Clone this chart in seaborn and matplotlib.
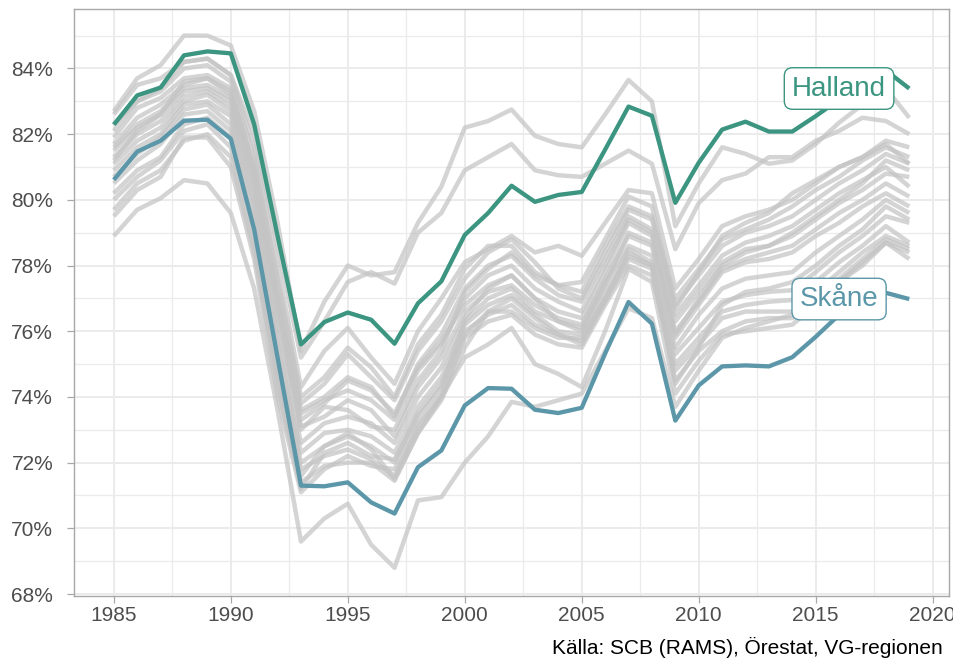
import matplotlib
matplotlib.use("Agg")
import matplotlib.pyplot as plt
import numpy as np
import pandas as pd
import seaborn as sns

# ---------------- data ----------------
years = list(range(1985, 2020))

halland = [82.29, 83.18, 83.42, 84.40, 84.52, 84.46, 82.30, 78.90, 75.60, 76.28,
           76.57, 76.35, 75.62, 76.85, 77.52, 78.93, 79.60, 80.43, 79.94, 80.15,
           80.24, 81.53, 82.84, 82.56, 79.91, 81.13, 82.14, 82.38, 82.08, 82.08,
           82.55, 83.05, 83.50, 83.94, 83.39]
skane = [80.61, 81.47, 81.80, 82.41, 82.44, 81.86, 79.10, 75.20, 71.30, 71.28,
         71.40, 70.79, 70.45, 71.86, 72.37, 73.74, 74.27, 74.25, 73.61, 73.51,
         73.67, 75.32, 76.89, 76.23, 73.28, 74.35, 74.93, 74.96, 74.93, 75.21,
         75.83, 76.50, 76.95, 77.17, 76.98]

g01 = [82.7, 83.7, 84.1, 85.0, 85.0, 84.7, 82.7, 79.3, 75.4, 76.9, 78.0, 77.7, 77.8, 79.3, 80.4,
       82.2, 82.4, 82.75, 81.95, 81.7, 81.6, 82.6, 83.65, 83.0, 79.2, 80.5, 81.6, 81.4, 81.1, 81.2,
       81.7, 82.35, 82.9, 83.4, 82.5]
g02 = [78.9, 79.7, 80.05, 80.6, 80.5, 79.6, 77.3, 73.6, 69.6, 70.3, 70.75, 69.5, 68.8, 70.85, 70.95,
       72.0, 72.8, 73.85, 73.7, 73.9, 74.1, 75.4, 76.7, 76.4, 73.7, 74.8, 75.8, 76.1, 76.3, 76.5,
       77.0, 77.5, 78.0, 78.7, 78.2]
g03 = [82.3, 83.0, 83.4, 84.2, 84.3, 83.8, 82.0, 78.6, 75.2, 76.3, 77.5, 77.8, 77.45, 79.0, 79.6,
       80.9, 81.3, 81.7, 80.9, 80.75, 80.7, 81.1, 81.5, 81.1, 78.5, 79.9, 80.6, 80.8, 81.3, 81.3,
       81.8, 82.1, 82.5, 82.4, 82.0]
g04 = [82.6, 83.5, 83.7, 84.2, 84.3, 83.8, 81.6, 78.0, 74.3, 75.4, 76.1, 75.2, 74.4, 76.0, 77.0,
       78.1, 78.5, 78.9, 78.4, 78.6, 78.3, 79.3, 80.3, 80.2, 77.3, 78.2, 79.2, 79.5, 79.7, 80.0,
       80.5, 81.0, 81.3, 81.8, 81.6]
g05 = [82.1, 83.0, 83.3, 84.0, 84.1, 83.6, 81.3, 77.6, 74.0, 74.6, 75.5, 74.9, 74.0, 75.6, 76.5,
       77.9, 78.6, 78.6, 77.8, 77.4, 77.2, 78.6, 79.8, 79.5, 77.0, 77.9, 78.8, 79.1, 79.4, 79.8,
       80.3, 80.7, 81.2, 81.6, 81.3]
g06 = [81.9, 82.8, 83.1, 83.7, 83.8, 83.4, 81.0, 77.3, 73.8, 74.4, 75.3, 74.6, 73.9, 75.4, 76.3,
       77.6, 78.4, 78.8, 78.1, 77.3, 77.0, 78.4, 79.7, 79.4, 76.8, 77.7, 78.6, 79.0, 79.2, 79.5,
       80.0, 80.5, 80.9, 81.4, 81.1]
g07 = [81.7, 82.5, 82.9, 83.5, 83.7, 83.3, 80.9, 77.1, 73.6, 74.0, 74.6, 74.3, 73.4, 75.0, 75.9,
       77.3, 78.0, 78.3, 77.6, 77.1, 76.9, 78.2, 79.5, 79.1, 76.5, 77.4, 78.3, 78.7, 78.9, 79.2,
       79.7, 80.2, 80.6, 81.0, 80.4]
g08 = [81.6, 82.3, 82.7, 83.4, 83.5, 83.1, 80.6, 76.9, 73.5, 73.9, 74.2, 73.9, 73.3, 74.8, 75.6,
       77.0, 77.7, 78.0, 77.3, 76.9, 76.6, 78.0, 79.4, 79.0, 76.3, 77.2, 78.1, 78.5, 78.6, 78.9,
       79.4, 79.9, 80.3, 80.8, 80.7]
g09 = [81.5, 82.2, 82.6, 83.3, 83.4, 83.0, 80.5, 76.7, 73.3, 73.8, 74.5, 74.2, 73.5, 74.9, 75.7,
       76.8, 77.4, 77.7, 77.0, 76.6, 76.4, 77.8, 79.3, 78.9, 76.0, 76.9, 77.9, 78.2, 78.4, 78.6,
       79.1, 79.6, 80.0, 80.5, 80.1]
g10 = [81.3, 82.0, 82.4, 83.15, 83.3, 82.85, 80.3, 76.4, 73.1, 73.4, 73.9, 73.6, 72.8, 74.3, 75.2,
       76.6, 77.2, 77.4, 76.8, 76.4, 76.2, 77.6, 78.9, 78.6, 75.8, 76.8, 77.8, 78.1, 78.2, 78.4,
       78.9, 79.3, 79.8, 80.2, 79.8]
g11 = [81.1, 81.8, 82.2, 83.0, 83.2, 82.7, 80.0, 76.0, 72.6, 73.2, 73.4, 73.2, 72.6, 74.0, 74.9,
       76.4, 77.3, 77.7, 77.0, 76.3, 76.1, 77.5, 78.6, 78.3, 75.5, 76.5, 77.3, 77.6, 77.7, 77.8,
       78.4, 78.9, 79.4, 80.0, 79.6]
g12 = [80.9, 81.6, 82.0, 82.9, 83.0, 82.55, 79.8, 75.7, 72.3, 72.9, 73.0, 72.8, 72.3, 73.7, 74.6,
       76.2, 76.8, 77.1, 76.5, 76.0, 75.9, 77.2, 78.5, 78.1, 75.3, 76.1, 76.9, 77.1, 77.2, 77.25,
       77.8, 78.4, 78.9, 79.5, 79.3]
g13 = [80.7, 81.4, 81.9, 82.75, 82.9, 82.3, 79.5, 75.3, 72.0, 72.5, 72.8, 72.5, 72.0, 73.5, 74.4,
       76.0, 76.5, 76.8, 76.2, 75.9, 75.7, 77.0, 78.4, 78.0, 75.0, 75.8, 76.6, 76.8, 76.9, 76.95,
       77.5, 78.1, 78.6, 79.2, 78.7]
g14 = [80.5, 81.2, 81.7, 82.6, 82.7, 82.1, 79.2, 75.0, 71.8, 72.2, 72.4, 72.1, 71.6, 73.1, 74.0,
       75.8, 76.3, 76.5, 75.9, 75.6, 75.5, 76.8, 78.0, 77.7, 74.8, 75.6, 76.4, 76.6, 76.6, 76.6,
       77.2, 77.8, 78.4, 78.9, 78.6]
g15 = [80.2, 80.9, 81.3, 82.3, 82.5, 81.9, 79.0, 74.8, 71.6, 72.5, 72.9, 72.4, 71.5, 72.9, 73.9,
       75.5, 76.6, 77.0, 76.4, 75.9, 75.6, 76.9, 78.2, 77.9, 74.5, 75.4, 76.0, 76.3, 76.4, 76.4,
       77.0, 77.6, 78.2, 78.8, 78.5]
g16 = [80.0, 80.7, 81.2, 82.1, 82.3, 81.6, 78.7, 74.6, 71.4, 71.9, 72.0, 72.0, 71.45, 72.9, 74.0,
       75.2, 75.6, 76.1, 75.0, 74.7, 74.3, 76.0, 77.9, 77.5, 74.1, 75.1, 75.9, 76.0, 76.1, 76.2,
       76.8, 77.5, 78.1, 78.7, 78.4]
g17 = [79.7, 80.5, 80.9, 81.8, 82.0, 81.3, 78.4, 74.3, 71.2, 72.3, 72.6, 72.2, 72.1, 73.4, 74.3,
       76.3, 77.0, 77.3, 76.6, 76.3, 76.0, 77.4, 79.0, 78.7, 75.9, 77.0, 78.0, 78.4, 78.6, 79.0,
       79.5, 80.0, 80.5, 81.2, 80.9]
g18 = [79.5, 80.3, 80.7, 81.9, 81.9, 81.0, 78.2, 74.0, 71.1, 71.8, 72.2, 71.9, 71.8, 73.2, 74.1,
       75.9, 76.6, 76.6, 76.1, 75.8, 75.8, 77.0, 78.3, 78.0, 74.4, 75.5, 76.8, 77.2, 77.3, 77.5,
       78.0, 78.6, 79.1, 79.8, 79.4]
g19 = [81.2, 82.1, 82.6, 83.6, 83.7, 83.2, 80.8, 76.8, 73.0, 73.7, 73.6, 73.1, 73.0, 74.5, 75.4,
       77.2, 77.9, 78.4, 77.7, 77.4, 77.5, 78.8, 80.1, 79.8, 76.7, 77.8, 78.9, 79.3, 79.6, 80.2,
       80.6, 81.0, 81.3, 81.7, 81.1]

other_regions = [g01, g02, g03, g04, g05, g06, g07, g08, g09, g10,
                 g11, g12, g13, g14, g15, g16, g17, g18, g19]

y_ticks = [68, 70, 72, 74, 76, 78, 80, 82, 84]
x_ticks = [1985, 1990, 1995, 2000, 2005, 2010, 2015, 2020]
caption = "Källa: SCB (RAMS), Örestat, VG-regionen"

# ---------------- tables ----------------
grey_rows = []
for i, series in enumerate(other_regions):
    for yr, v in zip(years, series):
        grey_rows.append({"region": f"r{i}", "year": yr, "value": v})
grey_df = pd.DataFrame(grey_rows)

hl_df = pd.DataFrame({
    "region": ["Halland"] * len(years) + ["Skåne"] * len(years),
    "year": years + years,
    "value": halland + skane,
})

# ---------------- style ----------------
sns.set_theme(style="white")
plt.rcParams["font.family"] = ["Liberation Sans", "DejaVu Sans"]

c_halland = "#3b9580"
c_skane = "#5b97a9"
text_col = "#4d4d4d"
grid_col = "#ebebeb"

fig, ax = plt.subplots(figsize=(9.54, 6.59), dpi=100)
fig.subplots_adjust(left=0.0776, right=0.9948, top=0.9863, bottom=0.0956)

sns.lineplot(data=grey_df, x="year", y="value", units="region", estimator=None,
             color="#c4c4c4", alpha=0.72, linewidth=3.2, ax=ax, legend=False,
             solid_capstyle="butt", solid_joinstyle="round")
sns.lineplot(data=hl_df, x="year", y="value", hue="region",
             palette={"Halland": c_halland, "Skåne": c_skane},
             linewidth=3.1, ax=ax, legend=False,
             solid_capstyle="butt", solid_joinstyle="round")

ax.set_xlim(1983.3, 2020.7)
ax.set_ylim(67.94, 85.81)
ax.set_xticks(x_ticks)
ax.set_xticks([x + 2.5 for x in x_ticks[:-1]], minor=True)
ax.set_yticks(y_ticks)
ax.set_yticks([y + 1 for y in y_ticks], minor=True)
ax.set_yticklabels([f"{v}%" for v in y_ticks])
ax.set_xticklabels([str(v) for v in x_ticks])
ax.set_xlabel("")
ax.set_ylabel("")

ax.grid(which="major", color=grid_col, linewidth=1.4)
ax.grid(which="minor", color=grid_col, linewidth=0.9)
ax.set_axisbelow(True)

for sp in ax.spines.values():
    sp.set_color("#a8a8a8")
    sp.set_linewidth(1.0)

ax.tick_params(axis="both", which="major", length=5, width=0.9, color="#a8a8a8",
               labelsize=15, labelcolor=text_col, bottom=True, left=True)
ax.tick_params(axis="y", which="major", pad=10)
ax.tick_params(axis="x", which="major", pad=2)
ax.tick_params(which="minor", length=0)

# labels for the highlighted regions
ax.text(2016, halland[-1], "Halland", ha="center", va="center", fontsize=20,
        color=c_halland, zorder=10,
        bbox=dict(boxstyle="round,pad=0.28,rounding_size=0.3", fc="white",
                  ec=c_halland, lw=1.0))
ax.text(2016, skane[-1], "Skåne", ha="center", va="center", fontsize=20,
        color=c_skane, zorder=10,
        bbox=dict(boxstyle="round,pad=0.28,rounding_size=0.3", fc="white",
                  ec=c_skane, lw=1.0))

fig.text(0.9885, 0.018, caption, ha="right", va="center", fontsize=15,
         color="black")

fig.savefig("out.png", dpi=100)
